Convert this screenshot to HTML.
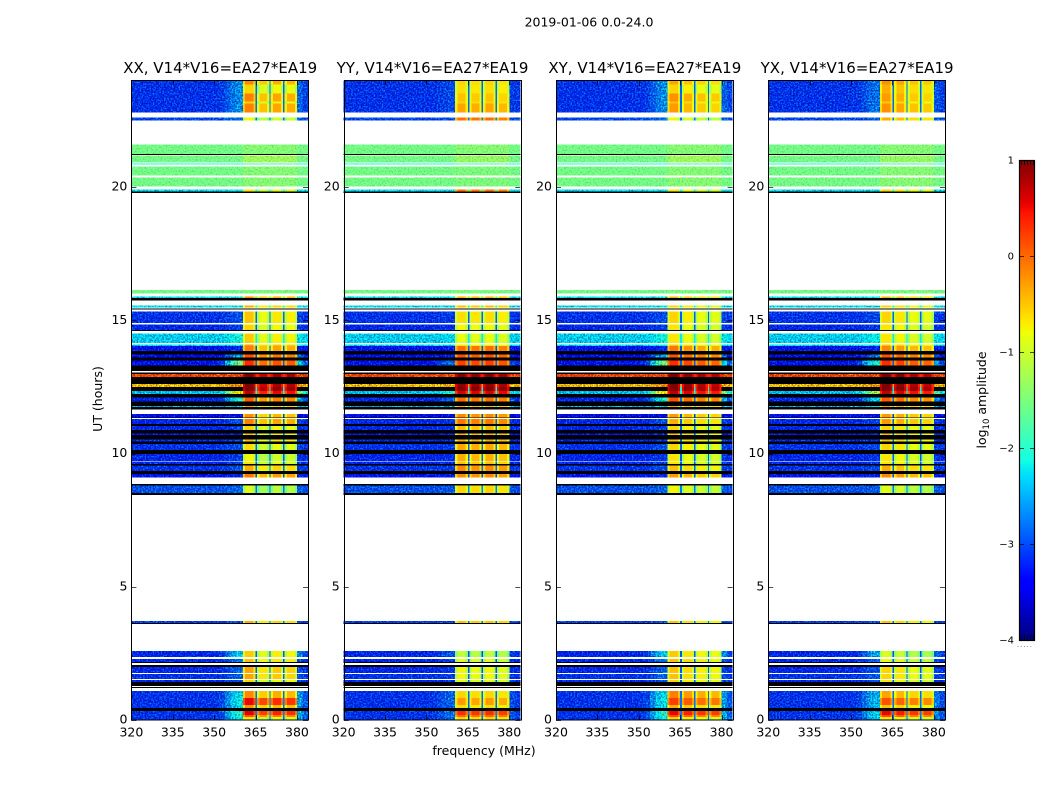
<!DOCTYPE html>
<html lang="en">
<head>
<meta charset="utf-8">
<title>2019-01-06 0.0-24.0</title>
<style>
html,body{margin:0;padding:0;background:#fff;}
svg{display:block;font-family:"DejaVu Sans","Liberation Sans",sans-serif;fill:#000;}
</style>
</head>
<body>
<svg id="chart" width="1050" height="800" viewBox="0 0 1050 800" xmlns="http://www.w3.org/2000/svg">
<defs id="defs"></defs>
<text x="589" y="26.5" font-size="12.5" text-anchor="middle">2019-01-06 0.0-24.0</text>
<text x="484" y="755" font-size="12.5" text-anchor="middle">frequency (MHz)</text>
<text transform="translate(102,399) rotate(-90)" font-size="12.5" text-anchor="middle">UT (hours)</text>
<text transform="translate(986,400) rotate(-90)" font-size="12.5" text-anchor="middle">log<tspan font-size="8.5" dy="3">10</tspan><tspan dy="-3"> amplitude</tspan></text>
</svg>
<script>
// ---- chart data (UT hours, MHz, log10 amplitude) ----
const panelTitles = ["XX, V14*V16=EA27*EA19","YY, V14*V16=EA27*EA19","XY, V14*V16=EA27*EA19","YX, V14*V16=EA27*EA19"];
const xTicks = [320,335,350,365,380];
const yTicks = [0,5,10,15,20];
const colorTicks = [-4,-3,-2,-1,0,1];
const colorMinorTicks = [0,1,2,3,4];

const freqEdges = [320,322,324,326,328,330,332,334,336,338,340,342,344,346,348,350,352,354,356,358,360.4,
  361.2,362.8,364.2,365,365.6,366.4,368,369.2,370,370.5,371.3,373,374.2,375,375.5,376.3,378,379.2,380,382,384];
const binSubband = [-1,-1,-1,-1,-1,-1,-1,-1,-1,-1,-1,-1,-1,-1,-1,-1,-1,-1,-1,-1,
  0,0,0,0,-2,1,1,1,1,-2,2,2,2,2,-2,3,3,3,3,-1,-1];
const binRampWeight = [0,0,0,0,0,0,0,0,0,0,0,0,0,0,0,0.03,0.12,0.45,0.8,1,
  0,0,0,0,0,0,0,0,0,0,0,0,0,0,0,0,0,0,0,0.55,0.2];
const binShape = [0,0,0,0,0,0,0,0,0,0,0,0,0,0,0,0,0,0,0,0,
  -0.3,0.08,0.08,-0.3,0,-0.3,0.08,0.08,-0.3,0,-0.3,0.08,0.08,-0.3,0,-0.3,0.08,0.08,-0.3,0,0];

const rowTop = [24,23.85,23.51,23.21,23.14,22.61,21.60,21.19,20.89,20.78,20.36,19.91,16.13,15.90,15.56,15.34,14.85,14.51,14.10,14.03,13.71,13.49,12.99,12.61,12.50,12.34,12.11,11.78,11.48,11.29,11.03,10.76,10.52,10.35,9.98,9.68,9.56,9.23,8.81,3.71,2.59,2.29,1.99,1.73,1.50,1.09,0.825,0.56,0.34,0.19,0.11];
const rowBottom = [23.85,23.51,23.21,23.14,22.80,22.50,21.24,20.93,20.85,20.44,20.03,19.84,16.01,15.83,15.49,14.89,14.63,14.14,14.03,13.84,13.61,13.31,12.87,12.50,12.34,12.23,11.96,11.74,11.36,11.10,10.88,10.69,10.46,10.13,9.71,9.56,9.34,9.11,8.51,3.64,2.36,2.18,1.76,1.54,1.43,0.825,0.56,0.45,0.19,0.11,0];
const rowBackground = [-3.2,-3.2,-3.2,-3.2,-3.2,-3.1,-1.55,-1.55,-2.1,-1.55,-1.55,-2.3,-1.55,-2.3,-2.3,-3.2,-3.25,-2.4,-2.35,-3.35,-3.45,-3.35,0.25,-0.4,-9,-2.5,-3.25,-2.6,-3.45,-3.25,-3.25,-3.35,-3.25,-3.2,-3.25,-3.25,-3.2,-3.35,-3.05,-3.15,-3.25,-3.25,-3.25,-3.2,-3.25,-3.2,-3.2,-3.2,-3.2,-3.2,-3.2];
const rowRamp = [-2.75,-2.75,-2.75,-2.75,-2.75,-2.9,-1.55,-1.55,-2.1,-1.55,-1.55,-2.2,-1.55,-2.2,-2.2,-3.05,-3.15,-2.1,-2.2,-3.25,-2.6,-1.5,0.25,-0.1,-9,-0.6,-2.0,-2.4,-3.35,-3.05,-3.15,-3.25,-3.15,-3.05,-3.15,-3.15,-3.05,-3.25,-2.95,-3.05,-2.4,-2.85,-2.95,-2.95,-3.05,-2.3,-2.2,-2.3,-2.0,-2.0,-2.2];
const rowShape = [1,1,1,1,1,1,0,0,0,0,0,1,0,1,1,1,1,1,1,1,1,1,1,1,1,1,1,1,1,1,1,1,1,1,1,1,1,1,1,1,1,1,1,1,1,1,1,1,1,1,1];
const levelsXX = [-0.4,-0.8,-0.35,-0.8,-0.35,-1.0,-1.45,-1.3,-1.9,-1.45,-1.45,-0.9,-1.5,-0.4,-0.6,-0.7,-0.8,-0.75,-0.5,-0.35,-0.1,0.1,0.85,0.8,0.9,0.5,-0.15,-0.5,-0.45,-0.35,-0.8,-0.7,-0.7,-0.85,-1.0,-0.9,-0.6,-0.3,-1.15,-0.6,-0.75,-0.7,-0.55,-0.55,-0.8,-0.4,0.3,-0.45,0.35,-0.1,-0.9];
const levelsYY = [-0.7,-0.75,-0.6,-0.7,-0.45,-0.15,-1.45,-1.35,-1.9,-1.5,-1.5,-0.15,-1.5,-0.5,-0.6,-0.75,-0.9,-0.95,-0.8,-0.15,0.0,0.1,0.85,0.8,0.9,0.5,-0.15,-0.5,-0.3,-0.2,-0.55,-0.5,-0.5,-0.45,-0.5,-0.6,-0.3,-0.3,-0.7,-0.6,-1.2,-1.0,-0.9,-0.9,-1.0,-0.7,-0.4,-0.75,0.2,-0.1,-0.7];
const levelsXY = [-0.55,-0.8,-0.45,-0.7,-0.5,-1.0,-1.45,-1.3,-1.9,-1.45,-1.45,-0.9,-1.5,-0.6,-0.8,-0.8,-0.9,-0.9,-0.7,-0.3,-0.1,0.1,0.85,0.8,0.85,0.5,-0.1,-0.5,-0.5,-0.6,-0.8,-0.7,-0.7,-0.8,-0.9,-0.9,-0.7,-0.5,-1.0,-0.7,-0.75,-0.7,-0.7,-0.7,-0.8,-0.35,0.0,-0.6,0.3,-0.05,-0.8];
const levelsYX = [-0.45,-0.6,-0.5,-0.75,-0.45,-0.6,-1.45,-1.35,-1.9,-1.45,-1.45,-0.8,-1.5,-0.6,-0.8,-0.8,-0.9,-0.9,-0.7,-0.4,-0.1,0.1,0.85,0.8,0.9,0.5,-0.15,-0.5,-0.5,-0.5,-0.8,-0.7,-0.7,-0.8,-0.9,-0.9,-0.6,-0.4,-1.1,-0.7,-1.15,-1.0,-0.8,-0.8,-0.9,-0.55,-0.1,-0.7,0.3,-0.05,-0.9];
const subOffsetsXX = [0.15,-0.2,-0.05,-0.1];
const subOffsetsYY = [0.05,0,0.05,-0.05];
const subOffsetsXY = [0.15,0,-0.1,-0.15];
const subOffsetsYX = [0.15,0.05,-0.1,-0.15];
const rampScaleByPanel = [1,0.25,1,0.7];

const blackSpanTop = [21.24,19.84,15.83,15.45,14.63,13.84,13.61,13.31,13.05,12.87,12.23,11.96,11.74,11.36,11.10,10.88,10.69,10.46,10.13,9.60,9.34,8.85,8.51,3.64,2.18,2.06,1.43,1.24,0.45];
const blackSpanBottom = [21.21,19.78,15.75,15.41,14.59,13.71,13.49,13.09,12.99,12.61,12.11,11.78,11.66,11.33,11.03,10.76,10.52,10.35,9.98,9.56,9.23,8.81,8.44,3.60,2.14,1.99,1.28,1.20,0.34];

// ---- axis functions ----
const plotLeft = 131.4, plotStep = 212.3, plotWidth = 176.6, plotTop = 80.5, plotBottom = 720;
const xMin = 320, xMax = 384, yMin = 0, yMax = 24;
const cbLeft = 1019, cbRight = 1035, cbTop = 160, cbBottom = 640, cbMin = -4, cbMax = 1;
function xScale(panel, mhz){ return plotLeft + plotStep*panel + (mhz-xMin)/(xMax-xMin)*plotWidth; }
function yScale(hour){ return plotBottom - (hour-yMin)/(yMax-yMin)*(plotBottom-plotTop); }
function cbScale(v){ return cbBottom - (v-cbMin)/(cbMax-cbMin)*(cbBottom-cbTop); }
function clamp01(a){ return a<0?0:a>1?1:a; }
function jet(v){
  const t = clamp01((v-cbMin)/(cbMax-cbMin));
  let r,g,b;
  if(t<0.35) r=0; else if(t<0.66) r=(t-0.35)/0.31; else if(t<0.89) r=1; else r=1-(t-0.89)/0.11*0.5;
  if(t<0.125) g=0; else if(t<0.375) g=(t-0.125)/0.25; else if(t<0.64) g=1; else if(t<0.91) g=1-(t-0.64)/0.27; else g=0;
  if(t<0.11) b=0.5+t/0.11*0.5; else if(t<0.34) b=1; else if(t<0.65) b=1-(t-0.34)/0.31; else b=0;
  return "rgb("+Math.round(r*255)+","+Math.round(g*255)+","+Math.round(b*255)+")";
}

const NS = "http://www.w3.org/2000/svg";
const svg = document.getElementById("chart");
const defs = document.getElementById("defs");
function mk(tag, parent, attrs){
  const el = document.createElementNS(NS, tag);
  for(const k in attrs) el.setAttribute(k, attrs[k]);
  parent.appendChild(el);
  return el;
}
function cellValue(panel, r, b){
  const levels = [levelsXX,levelsYY,levelsXY,levelsYX][panel];
  const offsets = [subOffsetsXX,subOffsetsYY,subOffsetsXY,subOffsetsYX][panel];
  const bg = rowBackground[r];
  const s = binSubband[b];
  if(s===-1 && rowShape[r]!==0){
    if(bg<cbMin) return bg;
    return bg + (rowRamp[r]-bg)*binRampWeight[b]*rampScaleByPanel[panel];
  }
  if(rowShape[r]===0) return s===-1 ? bg : levels[r];
  if(s===-2){
    const base = bg<cbMin ? -2.6 : bg;
    return base*0.88 + levels[r]*0.12;
  }
  return levels[r] + offsets[s] + binShape[b];
}

for(let p=0;p<4;p++){
  const left = xScale(p,xMin), right = xScale(p,xMax);
  const f = mk("filter", defs, {id:"grain"+p, filterUnits:"userSpaceOnUse", x:left, y:plotTop, width:plotWidth, height:plotBottom-plotTop, "color-interpolation-filters":"sRGB"});
  mk("feTurbulence", f, {type:"fractalNoise", baseFrequency:"0.62", numOctaves:"2", seed:String(3+p*5), result:"n"});
  mk("feColorMatrix", f, {in:"n", type:"matrix", values:"0 0 0 0 0  1.8 0 0 0 -0.88  0 0 0 0 0  0 0 0 0 1", result:"green"});
  mk("feColorMatrix", f, {in:"n", type:"matrix", values:"2 0 0 0 -0.5  2 0 0 0 -0.5  2 0 0 0 -0.5  0 0 0 0 1", result:"gray"});
  mk("feComposite", f, {in:"SourceGraphic", in2:"gray", operator:"arithmetic", k1:"0.7", k2:"0.6", k3:"0", k4:"0", result:"mul"});
  mk("feComposite", f, {in:"mul", in2:"green", operator:"arithmetic", k1:"0", k2:"1", k3:"0.7", k4:"0", result:"sum"});
  mk("feComposite", f, {in:"sum", in2:"SourceAlpha", operator:"in"});

  const fs = mk("filter", defs, {id:"softgrain"+p, filterUnits:"userSpaceOnUse", x:left, y:plotTop, width:plotWidth, height:plotBottom-plotTop, "color-interpolation-filters":"sRGB"});
  mk("feTurbulence", fs, {type:"fractalNoise", baseFrequency:"0.62", numOctaves:"2", seed:String(7+p*3), result:"n"});
  mk("feColorMatrix", fs, {in:"n", type:"matrix", values:"2 0 0 0 -0.5  2 0 0 0 -0.5  2 0 0 0 -0.5  0 0 0 0 1", result:"gray"});
  mk("feComposite", fs, {in:"SourceGraphic", in2:"gray", operator:"arithmetic", k1:"0.3", k2:"0.85", k3:"0", k4:"0", result:"mul"});
  mk("feComposite", fs, {in:"mul", in2:"SourceAlpha", operator:"in"});

  const panel = mk("g", svg, {});
  
  
  const grainG = mk("g", panel, {filter:"url(#grain"+p+")", "shape-rendering":"crispEdges"});
  
  
  const softG = mk("g", panel, {filter:"url(#softgrain"+p+")", "shape-rendering":"crispEdges"});
  
  
  const smoothG = mk("g", panel, {"shape-rendering":"crispEdges"});
  
  

  for(let r=0;r<rowTop.length;r++){
    const y0 = yScale(rowTop[r]), y1 = yScale(rowBottom[r]);
    for(let b=0;b<binSubband.length;b++){
      const v = cellValue(p,r,b);
      let target = smoothG;
      if(v>=cbMin && rowShape[r]===0) target = softG;
      else if(v>=cbMin && binSubband[b]===-1) target = grainG;
      const x0 = xScale(p,freqEdges[b]), x1 = xScale(p,freqEdges[b+1]);
      const cell = mk("rect", target, {x:x0, y:y0, width:x1-x0, height:y1-y0, fill: v<cbMin ? "#000" : jet(v)});
      
      
    }
  }
  for(let i=0;i<blackSpanTop.length;i++){
    const y0 = yScale(blackSpanTop[i]), y1 = yScale(blackSpanBottom[i]);
    const span = mk("rect", smoothG, {x:left, y:y0, width:plotWidth, height:y1-y0, fill:"#000"});
    
    
  }

  const frame = mk("rect", panel, {x:Math.round(left)+0.5, y:plotTop, width:Math.round(plotWidth), height:plotBottom-plotTop, fill:"none", stroke:"#000", "stroke-width":1});
  
  

  const title = mk("text", panel, {x:(left+right)/2+0.5, y:73, "font-size":15, "text-anchor":"middle"});
  title.textContent = panelTitles[p];
  
  

  xTicks.forEach(function(t){
    const x = Math.round(xScale(p,t))+0.5;
    const tb = mk("line", panel, {x1:x, x2:x, y1:plotBottom, y2:plotBottom-5, stroke:"#000", "stroke-width":0.7});
    
    
    const tt = mk("line", panel, {x1:x, x2:x, y1:plotTop, y2:plotTop+5, stroke:"#000", "stroke-width":0.7});
    
    
    const lb = mk("text", panel, {x:xScale(p,t), y:736.5, "font-size":12.5, "text-anchor":"middle"});
    lb.textContent = String(t);
    
    
  });
  yTicks.forEach(function(t){
    const y = Math.round(yScale(t))+0.5;
    const tl = mk("line", panel, {x1:left, x2:left+5, y1:y, y2:y, stroke:"#000", "stroke-width":0.7});
    
    
    const tr = mk("line", panel, {x1:right, x2:right-5, y1:y, y2:y, stroke:"#000", "stroke-width":0.7});
    
    
    const lb = mk("text", panel, {x:left-4, y:yScale(t)+3.5, "font-size":12.5, "text-anchor":"end"});
    lb.textContent = String(t);
    
    
  });
}

// ---- colorbar ----
const cb = mk("g", svg, {});


const cbCells = mk("g", cb, {"shape-rendering":"crispEdges"});


for(let py=cbTop;py<cbBottom;py++){
  const v = cbMax - (py+0.5-cbTop)/(cbBottom-cbTop)*(cbMax-cbMin);
  const c = mk("rect", cbCells, {x:cbLeft, y:py, width:cbRight-cbLeft, height:1, fill:jet(v)});
  
  
}
const cbFrame = mk("rect", cb, {x:cbLeft+0.5, y:cbTop+0.5, width:cbRight-cbLeft-1, height:cbBottom-cbTop, fill:"none", stroke:"#000", "stroke-width":1.2});


colorTicks.forEach(function(t){
  const y = Math.round(cbScale(t))+0.5;
  const a = mk("line", cb, {x1:cbLeft, x2:cbLeft+5, y1:y, y2:y, stroke:"#000", "stroke-width":0.7});
  
  
  const b = mk("line", cb, {x1:cbRight, x2:cbRight-5, y1:y, y2:y, stroke:"#000", "stroke-width":0.7});
  
  
  const lb = mk("text", cb, {x:cbLeft-5, y:cbScale(t)+3.5, "font-size":10, "text-anchor":"end"});
  lb.textContent = (t<0 ? "\u2212"+Math.abs(t) : String(t));
  
  
});
colorMinorTicks.forEach(function(i){
  const x = cbLeft + 2.5 + i*3;
  const top = mk("line", cb, {x1:x, x2:x, y1:cbTop, y2:cbTop+5, stroke:"#000", "stroke-width":0.7});
  
  
  const bot = mk("line", cb, {x1:x, x2:x, y1:cbBottom, y2:cbBottom-5, stroke:"#000", "stroke-width":0.7});
  
  
  const dot = mk("rect", cb, {x:cbLeft-1.5+i*3.2, y:646, width:1, height:1, fill:"#999"});
  
  
});
</script>
</body>
</html>
